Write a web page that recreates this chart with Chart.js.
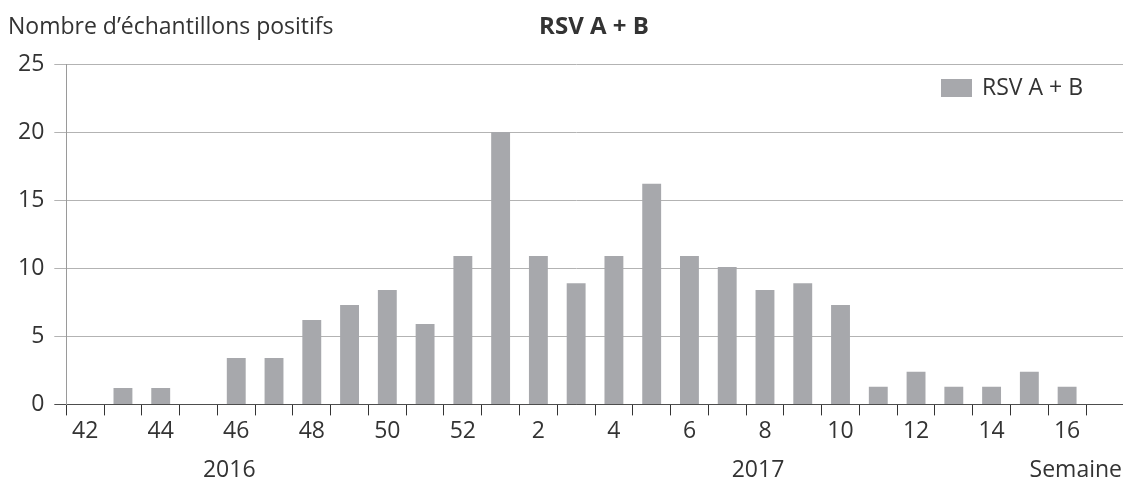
<!DOCTYPE html>
<html>
<head>
<meta charset="utf-8">
<script src="https://cdn.jsdelivr.net/npm/chart.js@4.4.0/dist/chart.umd.min.js"></script>
<style>
  html, body { margin: 0; padding: 0; background: #fff; }
  #wrap { width: 1123px; height: 482px; }
</style>
</head>
<body>
<div id="wrap"><canvas id="rsvChart"></canvas></div>
<script>
// Semaines (2016: 42-52, 2017: 1-16)
const weeks = ['42', '43', '44', '45', '46', '47', '48', '49', '50', '51', '52',
    '1', '2', '3', '4', '5', '6', '7', '8', '9', '10', '11', '12', '13', '14', '15', '16'];
const rsvValues = [0, 1.2, 1.2, 0, 3.4, 3.4, 6.2, 7.3, 8.4, 5.9, 10.9,
    20, 10.9, 8.9, 10.9, 16.2, 10.9, 10.1, 8.4, 8.9, 7.3, 1.3, 2.4, 1.3, 1.3, 2.4, 1.3];
const yTicks = [0, 5, 10, 15, 20, 25];
const years = ['2016', '2017'];
const yearWeeks = ['46', '8'];

const FONT = '"Open Sans", "Noto Sans", sans-serif';
const textColor = '#333333';
const gridColor = '#b3b3b3';
const axisColor = '#4d4d4d';
const barColor = '#a7a8ac';

// même arrondi que Chart.js pour les lignes de 1px
const align = (p) => Math.round(p - 0.5) + 0.5;

// titres, légende, années et prolongement des lignes de grille jusqu'au bord
const extrasPlugin = {
    id: 'extras',
    afterDraw(chart) {
        const { ctx, chartArea, scales: { x, y } } = chart;
        ctx.save();
        ctx.lineWidth = 1;
        yTicks.forEach(v => {
            const py = align(y.getPixelForValue(v));
            ctx.strokeStyle = v === 0 ? axisColor : gridColor;
            ctx.beginPath();
            ctx.moveTo(chartArea.right, py);
            ctx.lineTo(chart.width, py);
            ctx.stroke();
        });

        ctx.fillStyle = textColor;
        ctx.textBaseline = 'middle';
        ctx.font = '23px ' + FONT;
        ctx.textAlign = 'left';
        ctx.fillText('Nombre d\u2019échantillons positifs', 8, 27);

        ctx.font = 'bold 24px ' + FONT;
        ctx.textAlign = 'center';
        ctx.fillText('RSV A + B', 594, 27);

        // légende
        const ds = chart.data.datasets[0];
        ctx.font = '23px ' + FONT;
        ctx.textAlign = 'right';
        const legendY = chartArea.top + 24;
        const textRight = chartArea.right - 3;
        const textW = ctx.measureText(ds.label).width;
        ctx.fillText(ds.label, textRight, legendY);
        ctx.fillStyle = ds.backgroundColor;
        ctx.fillRect(textRight - textW - 10 - 31, legendY - 9, 31, 18);

        // années et titre de l'axe
        ctx.fillStyle = textColor;
        ctx.textAlign = 'center';
        const yearY = chartArea.bottom + 66;
        years.forEach((label, i) => {
            const px = x.getPixelForValue(weeks.indexOf(yearWeeks[i]));
            ctx.fillText(label, px - 7, yearY);
        });
        ctx.textAlign = 'right';
        ctx.fillText('Semaine', chart.width - 1, yearY);
        ctx.restore();
    }
};

const ctx = document.getElementById('rsvChart').getContext('2d');
const rsvChart = new Chart(ctx, {
    type: 'bar',
    data: {
        labels: weeks,
        datasets: [{
            label: 'RSV A + B',
            data: rsvValues,
            backgroundColor: barColor,
            borderWidth: 0,
            categoryPercentage: 1,
            barPercentage: 0.5
        }]
    },
    options: {
        responsive: true,
        maintainAspectRatio: false,
        animation: false,
        layout: {
            padding: { top: 64, right: 37, bottom: 35, left: 8 }
        },
        scales: {
            x: {
                offset: true,
                grid: {
                    offset: true,
                    drawOnChartArea: false,
                    drawTicks: true,
                    tickLength: 11,
                    color: '#333333'
                },
                border: { color: axisColor, width: 1 },
                ticks: {
                    autoSkip: false,
                    maxRotation: 0,
                    padding: 2,
                    color: textColor,
                    font: { family: FONT, size: 23 },
                    callback: (val, i) => (i % 2 === 0 ? weeks[i] : '')
                }
            },
            y: {
                min: 0,
                max: 25,
                afterBuildTicks: (scale) => {
                    scale.ticks = yTicks.map(v => ({ value: v }));
                },
                grid: {
                    color: (c) => (c.tick && c.tick.value === 0 ? axisColor : gridColor),
                    tickLength: 12,
                    drawTicks: true
                },
                border: { color: '#9a9a9a', width: 1 },
                ticks: {
                    padding: 10,
                    color: textColor,
                    font: { family: FONT, size: 23 }
                }
            }
        },
        plugins: {
            legend: { display: false },
            tooltip: { enabled: false }
        }
    },
    plugins: [extrasPlugin]
});
</script>
</body>
</html>
